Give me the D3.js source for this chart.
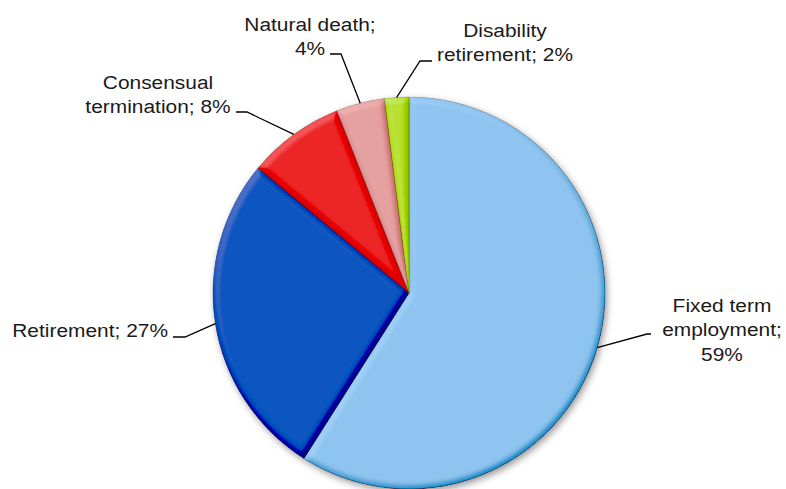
<!DOCTYPE html>
<html>
<head>
<meta charset="utf-8">
<script src="https://cdn.jsdelivr.net/npm/d3@7/dist/d3.min.js"></script>
<style>
  html, body { margin: 0; padding: 0; background: #fff; }
  svg { display: block; }
  text { font-family: "Liberation Sans", Arial, sans-serif; fill: #1a1a1a; }
</style>
</head>
<body>
<svg id="chart" width="786" height="489"></svg>
<script>
// Reasons for termination of employment (share of cases, %)
const categories = [
  "Fixed term employment",
  "Retirement",
  "Consensual termination",
  "Natural death",
  "Disability retirement"
];
const shares = [59, 27, 8, 4, 2];
const colors = ["#8EC4EF", "#0556BF", "#EC2327", "#E5A0A0", "#B7E032"];

// How many words go on each line of each label
const wrap = [[2, 1, 1], [3], [1, 2], [2, 1], [1, 2]];

// Label placement: text anchor point, first baseline, leader elbow and end
const labelLayout = [
  { x: 722, y: 312, anchor: "middle", elbow: [647, 334], end: [651, 334] },
  { x: 168, y: 337, anchor: "end",    elbow: [185, 337], end: [173, 337] },
  { x: 158, y: 88.5, anchor: "middle", elbow: [247, 112], end: [236, 112] },
  { x: 310, y: 31,  anchor: "middle", elbow: [341, 54],  end: [330, 54] },
  { x: 505, y: 36.5, anchor: "middle", elbow: [420, 61],  end: [432, 61] }
];

const cx = 409, cy = 293, radius = 196;
const fontSize = 18.6, lineGap = 24.5, stretch = 1.125;

const svg = d3.select("#chart");
const defs = svg.append("defs");

// Soft shadow under the whole pie
const shadow = defs.append("filter").attr("id", "shadow")
  .attr("x", "-10%").attr("y", "-10%").attr("width", "125%").attr("height", "125%");
shadow.append("feGaussianBlur").attr("in", "SourceAlpha").attr("stdDeviation", 3.5).attr("result", "b");
shadow.append("feOffset").attr("in", "b").attr("dx", 2).attr("dy", 3).attr("result", "o");
shadow.append("feFlood").attr("flood-color", "#000").attr("flood-opacity", 0.4).attr("result", "c");
shadow.append("feComposite").attr("in", "c").attr("in2", "o").attr("operator", "in").attr("result", "s");
const sm = shadow.append("feMerge");
sm.append("feMergeNode").attr("in", "s");
sm.append("feMergeNode").attr("in", "SourceGraphic");

// Bevelled edge on every slice: lighting on the blurred outline
const bevel = defs.append("filter").attr("id", "bevel")
  .attr("x", "-5%").attr("y", "-5%").attr("width", "110%").attr("height", "110%");
bevel.append("feGaussianBlur").attr("in", "SourceAlpha").attr("stdDeviation", 3.2).attr("result", "blur");
const el = 50;
const diff = bevel.append("feDiffuseLighting").attr("in", "blur")
  .attr("surfaceScale", 6).attr("diffuseConstant", 0.5 / Math.sin(el * Math.PI / 180))
  .attr("lighting-color", "#fff").attr("result", "light");
diff.append("feDistantLight").attr("azimuth", 235).attr("elevation", el);
bevel.append("feComposite").attr("in", "SourceGraphic").attr("in2", "light")
  .attr("operator", "arithmetic").attr("k1", 0).attr("k2", 1).attr("k3", 0.5).attr("k4", -0.25)
  .attr("result", "lit");
bevel.append("feComposite").attr("in", "lit").attr("in2", "SourceAlpha").attr("operator", "in");

const data = categories.map((c, i) => ({ name: c, value: shares[i], color: colors[i], i }));

const pie = d3.pie().value(d => d.value).sort(null);
const arcs = pie(data);
const arc = d3.arc().innerRadius(0).outerRadius(radius);

const g = svg.append("g").attr("transform", `translate(${cx},${cy})`).attr("filter", "url(#shadow)");
g.selectAll("path.slice")
  .data(arcs)
  .join("path")
  .attr("class", "slice")
  .attr("d", arc)
  .attr("fill", d => d.data.color)
  .attr("stroke", d => d3.color(d.data.color).darker(0.9))
  .attr("stroke-width", 0.6)
  .attr("filter", "url(#bevel)");

// Leader lines from each slice edge to its label
const lines = svg.append("g");
arcs.forEach((a, i) => {
  const mid = (a.startAngle + a.endAngle) / 2;
  const p0 = [cx + radius * Math.sin(mid), cy - radius * Math.cos(mid)];
  const L = labelLayout[i];
  lines.append("path")
    .attr("d", d3.line()([p0, L.elbow, L.end]))
    .attr("fill", "none")
    .attr("stroke", "#000")
    .attr("stroke-width", 1.3);
});

// Labels: "<category>; <value>%", wrapped into lines
const labels = svg.append("g");
arcs.forEach((a, i) => {
  const L = labelLayout[i];
  const words = `${a.data.name}; ${a.data.value}%`.split(" ");
  const rows = [];
  let k = 0;
  wrap[i].forEach(n => { rows.push(words.slice(k, k + n).join(" ")); k += n; });
  const t = labels.append("g")
    .attr("transform", `translate(${L.x},${L.y}) scale(${stretch},1)`)
    .append("text")
    .attr("text-anchor", L.anchor)
    .attr("font-size", fontSize);
  rows.forEach((r, j) => {
    t.append("tspan").attr("x", 0).attr("y", j * lineGap).text(r);
  });
});
</script>
</body>
</html>
